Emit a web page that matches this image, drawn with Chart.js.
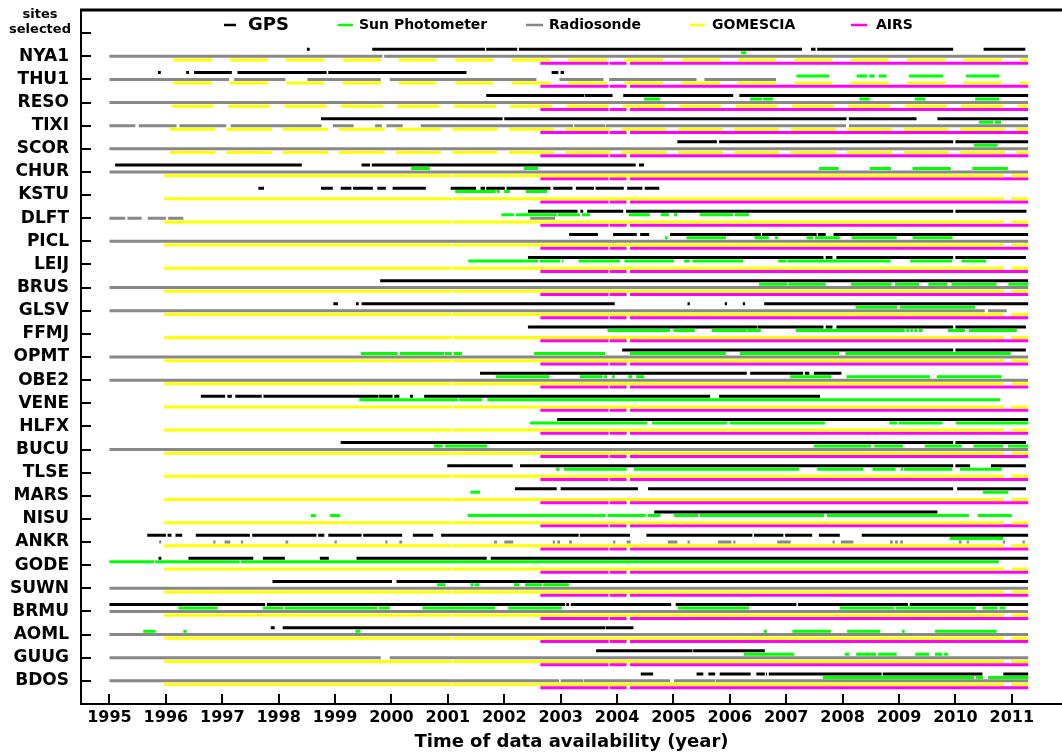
<!DOCTYPE html>
<html><head><meta charset="utf-8">
<script src="https://cdn.jsdelivr.net/npm/chart.js@4.4.0/dist/chart.umd.min.js"></script>
<style>html,body{margin:0;padding:0;background:#fff;overflow:hidden}#wrap{width:1062px;height:755px}</style>
</head><body><div id="wrap"><canvas id="c" width="1062" height="755"></canvas></div>
<script>
const sites = ['NYA1','THU1','RESO','TIXI','SCOR','CHUR','KSTU','DLFT','PICL','LEIJ','BRUS','GLSV','FFMJ','OPMT','OBE2','VENE','HLFX','BUCU','TLSE','MARS','NISU','ANKR','GODE','SUWN','BRMU','AOML','GUUG','BDOS'];
const yearTicks = [1995,1996,1997,1998,1999,2000,2001,2002,2003,2004,2005,2006,2007,2008,2009,2010,2011];
const seriesNames = ['GPS','Sun Photometer','Radiosonde','GOMESCIA','AIRS'];

// GOMESCIA coverage periods
const gomeFull = [[1995.97,2001.07],[2001.09,2010.86],[2010.99,2011.29]];
const gomeSeasonA = [[1996.13,1996.82],[1997.13,1997.81],[1998.13,1998.81],[1999.13,1999.82],[2000.13,2000.80],[2001.13,2001.81],[2002.13,2002.82],[2003.13,2003.82],[2004.13,2004.82],[2005.14,2005.83],[2006.14,2006.82],[2007.14,2007.82],[2008.14,2008.82],[2009.14,2009.83],[2010.14,2010.83],[2011.14,2011.29]];
const gomeSeasonB = [[1996.10,1996.85],[1997.10,1997.85],[1998.10,1998.85],[1999.10,1999.85],[2000.10,2000.85],[2001.10,2001.85],[2002.10,2002.85],[2003.10,2003.85],[2004.10,2004.85],[2005.10,2005.85],[2006.10,2006.85],[2007.10,2007.85],[2008.10,2008.85],[2009.10,2009.85],[2010.10,2010.85],[2011.10,2011.29]];
const gomeSeasonC = [[1996.07,1996.88],[1997.07,1997.88],[1998.07,1998.88],[1999.07,1999.88],[2000.08,2000.88],[2001.08,2001.88],[2002.08,2002.88],[2003.08,2003.88],[2004.08,2004.88],[2005.08,2005.88],[2006.08,2006.88],[2007.08,2007.88],[2008.08,2008.88],[2009.08,2009.88],[2010.08,2010.88],[2011.08,2011.29]];
// AIRS coverage period
const airsFull = [[2002.64,2003.85],[2003.87,2004.17],[2004.23,2011.29]];

const gps = [
 [[1998.50,1998.55],[1999.66,2001.66],[2001.68,2002.23],[2002.26,2007.28],[2007.44,2007.52],[2007.55,2009.96],[2010.50,2011.24]],
 [[1995.86,1995.91],[1996.36,1996.41],[1996.50,1997.17],[1997.27,1998.85],[1998.88,2001.33],[2002.84,2002.96],[2003.00,2003.06]],
 [[2001.68,2003.42],[2003.43,2003.92],[2004.11,2006.06],[2006.17,2011.29]],
 [[1998.75,2001.97],[2002.00,2008.07],[2008.11,2009.31],[2009.68,2011.29]],
 [[2005.07,2005.77],[2005.81,2009.96],[2010.00,2011.29]],
 [[1995.10,1998.41],[1999.47,1999.62],[1999.65,2004.33],[2004.39,2004.48]],
 [[1997.64,1997.74],[1998.75,1998.96],[1999.10,1999.29],[1999.32,1999.67],[1999.75,1999.90],[2000.02,2000.61],[2001.05,2001.50],[2001.58,2001.66],[2001.68,2002.01],[2002.04,2002.82],[2002.87,2003.21],[2003.27,2003.59],[2003.62,2004.12],[2004.18,2004.45],[2004.49,2004.75]],
 [[2002.42,2003.30],[2003.35,2003.40],[2003.47,2004.11],[2004.16,2009.96],[2010.00,2011.26]],
 [[2003.15,2003.66],[2003.93,2004.35],[2004.41,2004.57],[2004.94,2006.55],[2006.57,2007.54],[2007.56,2007.70],[2007.84,2011.29]],
 [[2002.42,2007.66],[2007.70,2007.82],[2007.89,2009.96],[2010.00,2011.25]],
 [[1999.80,2011.29]],
 [[1998.97,1999.05],[1999.37,1999.42],[1999.47,2003.96],[2005.25,2005.29],[2005.91,2005.95],[2006.23,2006.27],[2006.61,2011.29]],
 [[2002.42,2006.48],[2006.49,2007.66],[2007.70,2007.82],[2007.89,2009.96],[2010.00,2011.25]],
 [[2004.09,2009.96],[2010.00,2011.25]],
 [[2001.57,2006.30],[2006.36,2007.30],[2007.33,2007.41],[2007.49,2007.98]],
 [[1996.62,1997.05],[1997.09,1997.17],[1997.23,1997.70],[1997.73,1999.77],[1999.78,2000.02],[2000.05,2000.14],[2000.33,2000.38],[2000.58,2005.65],[2005.81,2007.60]],
 [[2002.94,2011.29]],
 [[1999.10,2009.96],[2010.00,2011.25]],
 [[2000.99,2002.15],[2002.28,2009.96],[2010.00,2010.26],[2010.63,2011.25]],
 [[2002.19,2002.93],[2003.00,2004.37],[2004.55,2009.96],[2010.03,2011.25]],
 [[2004.66,2009.68]],
 [[1995.67,1996.00],[1996.03,1996.10],[1996.17,1996.29],[1996.53,1997.49],[1997.53,1998.67],[1998.70,1998.81],[1998.88,1999.47],[1999.50,2000.19],[2000.38,2000.74],[2000.88,2003.32],[2003.34,2004.23],[2004.52,2006.40],[2006.43,2006.95],[2006.98,2007.46],[2007.58,2007.95],[2008.34,2011.29]],
 [[1995.87,1995.92],[1996.40,1997.55],[1997.72,1998.11],[1998.73,1998.89],[1999.38,2001.69],[2001.76,2011.29]],
 [[1997.89,2000.01],[2000.09,2011.29]],
 [[1995.00,1997.76],[1997.79,2003.08],[2003.10,2003.15],[2003.18,2004.96],[2005.04,2007.18],[2007.21,2009.16],[2009.19,2011.29]],
 [[1997.86,1997.93],[1998.07,2003.79],[2003.80,2004.29]],
 [[2003.63,2005.34],[2005.35,2006.62]],
 [[2004.42,2004.64],[2005.41,2005.53],[2005.62,2005.74],[2005.82,2006.37],[2006.47,2006.62],[2006.64,2006.66],[2006.69,2008.69],[2008.71,2010.48],[2010.85,2011.29]]
];

const sunPhotometer = [
 [[2006.20,2006.29]],
 [[2007.18,2007.76],[2008.25,2008.44],[2008.47,2008.57],[2008.64,2008.78],[2009.18,2009.78],[2010.19,2010.78]],
 [[2004.48,2004.76],[2006.36,2006.57],[2006.59,2006.77],[2008.30,2008.48],[2009.28,2009.47],[2010.35,2010.78]],
 [[2010.42,2010.67],[2010.70,2010.81]],
 [[2010.33,2010.75]],
 [[2000.35,2000.68],[2002.35,2002.60],[2007.58,2007.93],[2008.48,2008.86],[2009.24,2009.92],[2010.30,2010.93]],
 [[2001.13,2001.85],[2001.87,2001.92],[2002.00,2002.10],[2002.38,2002.76]],
 [[2001.95,2002.17],[2002.21,2002.93],[2002.95,2003.34],[2003.38,2003.52],[2004.21,2004.58],[2004.78,2004.92],[2005.01,2005.07],[2005.47,2006.06],[2006.09,2006.34]],
 [[2004.85,2004.90],[2005.23,2005.93],[2006.44,2006.69],[2006.80,2006.86],[2007.36,2007.48],[2007.51,2007.95],[2008.16,2008.96],[2009.24,2009.95]],
 [[2001.36,2002.60],[2002.63,2002.99],[2003.02,2003.05],[2003.32,2004.05],[2004.13,2005.01],[2005.19,2005.29],[2005.34,2006.24],[2006.86,2007.00],[2007.02,2008.85],[2009.20,2009.94],[2010.11,2010.54]],
 [[2006.52,2007.02],[2007.04,2007.70],[2008.15,2008.87],[2008.93,2009.36],[2009.52,2009.86],[2009.93,2010.73],[2010.94,2011.29]],
 [[2008.23,2008.97],[2009.02,2010.35]],
 [[2003.83,2004.94],[2005.00,2005.38],[2005.68,2006.30],[2006.31,2006.55],[2007.17,2009.10],[2009.13,2009.18],[2009.20,2009.25],[2009.27,2009.32],[2009.35,2009.42],[2009.87,2010.17],[2010.24,2011.09]],
 [[1999.46,2000.11],[2000.15,2000.93],[2000.95,2001.07],[2001.10,2001.25],[2002.53,2003.79],[2004.23,2005.93],[2006.18,2007.94],[2008.05,2010.98]],
 [[2001.85,2002.80],[2003.34,2003.74],[2003.77,2003.82],[2003.91,2003.96],[2004.20,2004.27],[2004.34,2004.48],[2007.07,2007.80],[2008.07,2009.55],[2009.67,2010.82]],
 [[1999.43,2001.18],[2001.20,2001.61],[2001.70,2010.79]],
 [[2002.46,2004.54],[2004.62,2005.96],[2006.00,2007.69],[2008.83,2008.97],[2009.00,2009.77],[2010.01,2011.29]],
 [[2000.75,2000.91],[2000.95,2001.70],[2007.49,2008.51],[2008.56,2009.07],[2009.46,2010.11],[2010.32,2010.85],[2010.93,2011.29]],
 [[2002.92,2002.98],[2003.06,2004.17],[2004.30,2007.23],[2007.55,2008.37],[2008.53,2008.94],[2009.03,2009.07],[2009.09,2009.94],[2010.08,2010.82]],
 [[2001.40,2001.57],[2010.49,2010.94]],
 [[1998.57,1998.66],[1998.91,1999.09],[2001.35,2003.80],[2003.83,2004.51],[2004.54,2004.77],[2005.01,2005.44],[2005.47,2007.67],[2007.72,2010.24],[2010.40,2011.00]],
 [[2009.90,2010.85]],
 [[1995.00,1995.79],[1995.81,1997.31],[1997.33,2010.77]],
 [[2000.81,2000.96],[2001.40,2001.46],[2001.48,2001.56],[2002.17,2002.27],[2002.37,2002.67],[2002.69,2003.15]],
 [[1996.22,1996.92],[1997.72,1998.08],[1998.11,1999.75],[1999.78,1999.97],[2000.55,2001.84],[2002.07,2003.02],[2005.08,2006.34],[2007.95,2008.91],[2008.94,2010.36],[2010.48,2010.75],[2010.79,2010.89]],
 [[1995.60,1995.82],[1996.31,1996.37],[1999.36,1999.45],[2006.60,2006.66],[2007.11,2007.79],[2008.08,2008.67],[2009.05,2009.10],[2009.64,2010.73]],
 [[2006.25,2007.14],[2008.04,2008.12],[2008.24,2008.59],[2008.63,2008.96],[2009.29,2009.53],[2009.64,2009.77],[2009.80,2009.87]],
 [[2007.65,2010.33],[2010.36,2010.49],[2010.58,2011.29]]
];

const radiosonde = [
 [[1995.00,1999.84],[1999.87,2011.29]],
 [[1995.00,1997.12],[1997.21,1998.12],[1998.51,1999.81],[1999.97,2002.57],[2002.98,2003.76],[2003.86,2005.41],[2005.55,2006.82]],
 [[1995.00,2011.29]],
 [[1995.00,1995.46],[1995.52,1996.19],[1996.24,1997.07],[1997.15,1998.76],[1998.96,1999.33],[1999.71,1999.83],[1999.91,2000.20],[2000.52,2003.22],[2003.24,2003.79],[2003.80,2008.06],[2008.11,2011.29]],
 [[1995.00,2011.29]],
 [[1995.00,2011.29]],
 [],
 [[1995.00,1995.28],[1995.32,1995.57],[1995.68,1996.00],[1996.04,1996.31],[2002.46,2002.90]],
 [[1995.00,2011.29]],
 [],
 [[1995.00,2011.29]],
 [[1995.00,2010.52],[2010.58,2010.91]],
 [],
 [[1995.00,2011.29]],
 [[1995.00,2011.29]],
 [],
 [],
 [[1995.00,2011.29]],
 [],
 [],
 [],
 [[1995.88,1995.92],[1996.84,1996.88],[1997.04,1997.14],[1997.33,1997.37],[1998.12,1998.17],[1998.99,1999.03],[1999.89,1999.93],[2000.14,2000.19],[2001.82,2001.87],[2002.00,2002.16],[2002.86,2002.90],[2002.94,2002.99],[2003.15,2003.20],[2003.93,2003.97],[2004.17,2004.24],[2004.90,2005.07],[2005.25,2005.29],[2005.79,2006.03],[2006.06,2006.10],[2006.84,2007.08],[2007.82,2007.86],[2007.97,2008.19],[2008.84,2008.89],[2008.93,2008.98],[2009.02,2009.07],[2010.06,2010.11],[2010.20,2010.24],[2010.84,2010.88],[2011.19,2011.23]],
 [],
 [[1995.00,2011.29]],
 [[1995.00,2011.29]],
 [[1995.00,2011.29]],
 [[1995.00,1999.81],[1999.97,2011.29]],
 [[1995.00,2002.97],[2003.00,2003.40],[2003.41,2004.94],[2005.01,2005.74],[2005.75,2011.29]]
];

const gomescia = [gomeSeasonA,gomeSeasonA,gomeSeasonB,gomeSeasonC,gomeSeasonC,
 gomeFull,gomeFull,gomeFull,gomeFull,gomeFull,gomeFull,gomeFull,gomeFull,gomeFull,gomeFull,gomeFull,gomeFull,gomeFull,gomeFull,gomeFull,gomeFull,gomeFull,gomeFull,gomeFull,gomeFull,gomeFull,gomeFull,gomeFull];
const airs = sites.map(() => airsFull);

// ---------- rendering ----------
const FONT = "'DejaVu Sans', 'Liberation Sans', sans-serif";
const seriesStyle = [
  {data: gps, color: '#000000', offset: -0.30},
  {data: sunPhotometer, color: '#00ff00', offset: -0.15},
  {data: radiosonde, color: '#888888', offset: 0},
  {data: gomescia, color: '#ffff00', offset: 0.16},
  {data: airs, color: '#ff00ff', offset: 0.30}
];
function toPoints(series, offset) {
  const pts = [];
  series.forEach((ivs, i) => {
    ivs.forEach(([a, b]) => {
      pts.push({x: a, y: i + offset}, {x: b, y: i + offset}, {x: b, y: null});
    });
  });
  return pts;
}
const datasets = seriesStyle.map((s, k) => ({
  label: seriesNames[k],
  data: toPoints(s.data, s.offset),
  borderColor: s.color,
  backgroundColor: s.color,
  borderWidth: 3,
  borderCapStyle: 'butt',
  pointRadius: 0,
  pointHoverRadius: 0,
  tension: 0,
  spanGaps: false,
  fill: false
}));

const decorPlugin = {
  id: 'decor',
  afterDraw(chart) {
    const ctx = chart.ctx, ca = chart.chartArea;
    const xs = chart.scales.x, ys = chart.scales.y;
    ctx.save();
    ctx.strokeStyle = '#000';
    // top border
    ctx.lineWidth = 3;
    ctx.beginPath(); ctx.moveTo(ca.left - 1, ca.top); ctx.lineTo(ca.right, ca.top); ctx.stroke();
    // inward ticks
    ctx.lineWidth = 2;
    xs.ticks.forEach(t => {
      const px = Math.round(xs.getPixelForValue(t.value));
      ctx.beginPath(); ctx.moveTo(px, ca.bottom); ctx.lineTo(px, ca.bottom - 10); ctx.stroke();
    });
    ys.ticks.forEach(t => {
      const py = Math.round(ys.getPixelForValue(t.value));
      ctx.beginPath(); ctx.moveTo(ca.left, py); ctx.lineTo(ca.left + 10, py); ctx.stroke();
    });
    // "sites selected"
    ctx.fillStyle = '#000';
    ctx.font = 'bold 13px ' + FONT;
    ctx.textAlign = 'center'; ctx.textBaseline = 'middle';
    ctx.fillText('sites', 40, 15);
    ctx.fillText('selected', 40, 30);
    // legend
    const ly = 25;
    const items = [
      {k: 0, l0: 224, l1: 236, tx: 248, size: 18},
      {k: 1, l0: 338, l1: 353, tx: 359, size: 14},
      {k: 2, l0: 526, l1: 543, tx: 549, size: 14},
      {k: 3, l0: 690, l1: 705, tx: 712, size: 14},
      {k: 4, l0: 851, l1: 867, tx: 876, size: 14}
    ];
    ctx.textAlign = 'left';
    items.forEach(it => {
      ctx.strokeStyle = seriesStyle[it.k].color;
      ctx.lineWidth = 2.5;
      ctx.beginPath(); ctx.moveTo(it.l0, ly); ctx.lineTo(it.l1, ly); ctx.stroke();
      ctx.font = 'bold ' + it.size + 'px ' + FONT;
      ctx.fillStyle = '#000';
      ctx.fillText(seriesNames[it.k], it.tx, ly);
    });
    ctx.restore();
  }
};

new Chart(document.getElementById('c'), {
  type: 'line',
  data: {datasets},
  plugins: [decorPlugin],
  options: {
    responsive: false,
    animation: false,
    devicePixelRatio: 1,
    layout: {padding: {top: 10, right: 0, bottom: 0, left: 0}},
    plugins: {legend: {display: false}, tooltip: {enabled: false}},
    events: [],
    scales: {
      x: {
        type: 'linear', min: 1994.495, max: 2011.89,
        grid: {display: false, drawTicks: false},
        border: {display: true, color: '#000', width: 2},
        afterBuildTicks: s => { s.ticks = yearTicks.map(v => ({value: v})); },
        afterFit: s => { s.height = 51; s.paddingLeft = 0; s.paddingRight = 0; },
        ticks: {color: '#000', padding: 4, maxRotation: 0, autoSkip: false,
          font: {family: FONT, size: 16, weight: 'bold'}, callback: v => String(v)},
        title: {display: true, text: 'Time of data availability (year)', color: '#000',
          font: {family: FONT, size: 18, weight: 'bold'}, padding: {top: 0, bottom: 2}}
      },
      y: {
        type: 'linear', min: -2, max: 28, reverse: true,
        grid: {display: false, drawTicks: false},
        border: {display: true, color: '#000', width: 2},
        afterBuildTicks: s => { s.ticks = [-1].concat(sites.map((_, i) => i)).map(v => ({value: v})); },
        afterFit: s => { s.width = 81; s.paddingTop = 0; s.paddingBottom = 0; },
        ticks: {color: '#000', padding: 12, autoSkip: false,
          font: {family: FONT, size: 17, weight: 'bold'},
          callback: v => (v >= 0 && v < sites.length) ? sites[v] : ''}
      }
    }
  }
});
</script>
</body></html>
